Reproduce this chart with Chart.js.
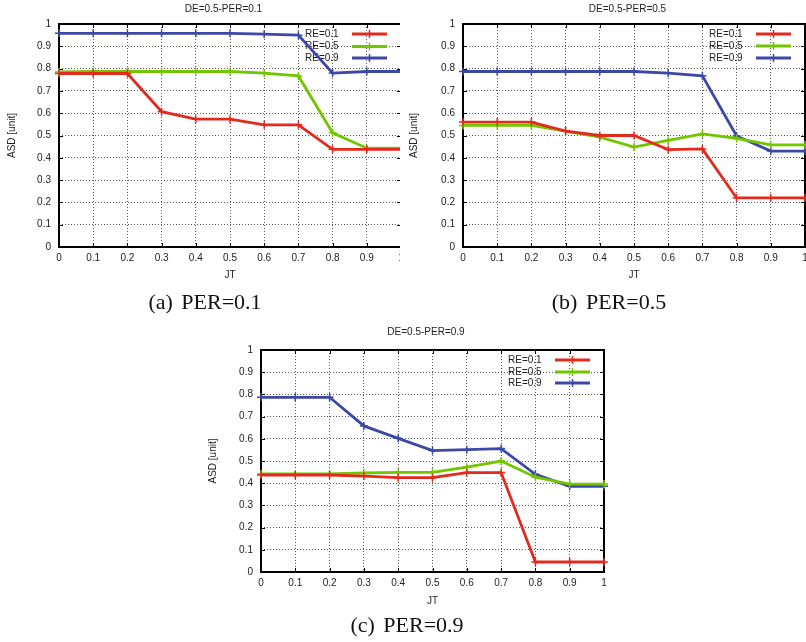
<!DOCTYPE html>
<html>
<head>
<meta charset="utf-8">
<script src="https://cdn.jsdelivr.net/npm/chart.js@4"></script>
<style>
  body { margin: 0; width: 806px; height: 642px; background: #fff; position: relative; overflow: hidden; }
  .box { position: absolute; overflow: hidden; }
  .cap { position: absolute; width: 200px; text-align: center; font-family: "Liberation Serif", "Times New Roman", serif;
         font-size: 22px; line-height: 22px; color: #111; word-spacing: 3px; white-space: nowrap; }
</style>
</head>
<body>
<div class="box" style="left:0;top:0;width:400px;height:290px"><canvas id="chartA" width="440" height="290"></canvas></div>
<div class="box" style="left:400px;top:0;width:406px;height:290px"><canvas id="chartB" width="440" height="290"></canvas></div>
<div class="box" style="left:200px;top:320px;width:420px;height:295px"><canvas id="chartC" width="420" height="295"></canvas></div>
<div class="cap" style="left:105px;top:291px">(a) PER=0.1</div>
<div class="cap" style="left:509px;top:291px">(b) PER=0.5</div>
<div class="cap" style="left:307px;top:614px">(c) PER=0.9</div>
<script>
// valeurs
const jtLabels = ['0', '0.1', '0.2', '0.3', '0.4', '0.5', '0.6', '0.7', '0.8', '0.9', '1'];
const yTickLabels = ['0', '0.1', '0.2', '0.3', '0.4', '0.5', '0.6', '0.7', '0.8', '0.9', '1'];
const reNames = ['RE=0.1', 'RE=0.5', 'RE=0.9'];
const reColors = ['#e32a1f', '#72c600', '#3c48a6'];

const per01_re01 = [0.778, 0.778, 0.778, 0.607, 0.573, 0.573, 0.548, 0.548, 0.438, 0.438, 0.438];
const per01_re05 = [0.785, 0.787, 0.787, 0.787, 0.787, 0.787, 0.78, 0.767, 0.512, 0.443, 0.443];
const per01_re09 = [0.958, 0.958, 0.958, 0.958, 0.958, 0.958, 0.955, 0.95, 0.78, 0.787, 0.787];

const per05_re01 = [0.56, 0.56, 0.56, 0.52, 0.5, 0.5, 0.437, 0.44, 0.22, 0.22, 0.22];
const per05_re05 = [0.545, 0.545, 0.545, 0.52, 0.493, 0.448, 0.478, 0.507, 0.487, 0.458, 0.458];
const per05_re09 = [0.787, 0.787, 0.787, 0.787, 0.787, 0.787, 0.78, 0.768, 0.498, 0.43, 0.43];

const per09_re01 = [0.437, 0.437, 0.437, 0.432, 0.425, 0.425, 0.448, 0.448, 0.045, 0.045, 0.045];
const per09_re05 = [0.442, 0.442, 0.442, 0.446, 0.449, 0.449, 0.472, 0.5, 0.427, 0.396, 0.396];
const per09_re09 = [0.787, 0.787, 0.787, 0.658, 0.602, 0.547, 0.551, 0.556, 0.44, 0.386, 0.386];

Chart.defaults.font.family = '"Liberation Sans", Arial, sans-serif';
Chart.defaults.font.size = 10;
Chart.defaults.color = '#222';

// cadre, petites graduations, titre et légende façon gnuplot
const gnuFrame = {
    id: 'gnuFrame',
    beforeDatasetsDraw(chart, args, opts) {
        const ctx = chart.ctx;
        const a = chart.chartArea;
        const sx = chart.scales.x, sy = chart.scales.y;
        const L = Math.round(a.left), R = Math.round(a.right);
        const T = Math.round(a.top), B = Math.round(a.bottom);
        ctx.save();
        ctx.strokeStyle = '#000';
        ctx.lineWidth = 1;
        ctx.beginPath();
        sy.ticks.forEach((t, i) => {
            const y = Math.round(sy.getPixelForTick(i)) + 0.5;
            ctx.moveTo(L, y); ctx.lineTo(L + 4, y);
            ctx.moveTo(R, y); ctx.lineTo(R - 4, y);
        });
        sx.ticks.forEach((t, i) => {
            const x = Math.round(sx.getPixelForTick(i)) + 0.5;
            ctx.moveTo(x, B); ctx.lineTo(x, B - 4);
            ctx.moveTo(x, T); ctx.lineTo(x, T + 4);
        });
        ctx.stroke();
        ctx.lineWidth = 2;
        ctx.strokeRect(L, T, R - L, B - T);

        ctx.font = '10px "Liberation Sans", Arial, sans-serif';
        ctx.fillStyle = '#222';
        ctx.textBaseline = 'middle';
        ctx.textAlign = 'center';
        ctx.fillText(opts.title, (a.left + a.right) / 2 - 6.5, opts.titleY);

        chart.data.datasets.forEach((ds, i) => {
            const y = a.top + opts.rows[i];
            ctx.textAlign = 'left';
            ctx.fillStyle = '#222';
            ctx.fillText(ds.label, a.right - 96, y);
            ctx.strokeStyle = ds.borderColor;
            ctx.lineWidth = 2.8;
            ctx.beginPath();
            ctx.moveTo(a.right - 49, y); ctx.lineTo(a.right - 14, y);
            ctx.stroke();
            ctx.lineWidth = 1.5;
            ctx.beginPath();
            ctx.moveTo(a.right - 31.5, y - 4); ctx.lineTo(a.right - 31.5, y + 4);
            ctx.stroke();
        });
        ctx.restore();
    }
};

function makeChart(id, series, lay) {
    const datasets = series.map((s, i) => ({
        label: reNames[i],
        data: s,
        borderColor: reColors[i],
        backgroundColor: reColors[i],
        borderWidth: 2.8,
        tension: 0,
        pointStyle: 'cross',
        pointRadius: 4,
        pointBorderWidth: 1.5,
        clip: false
    }));
    return new Chart(document.getElementById(id), {
        type: 'line',
        data: { labels: jtLabels, datasets: datasets },
        plugins: [gnuFrame],
        options: {
            responsive: false,
            animation: false,
            devicePixelRatio: 1,
            layout: { padding: { left: 0, top: lay.top, right: lay.right, bottom: lay.bottom } },
            plugins: {
                legend: { display: false },
                tooltip: { enabled: false },
                gnuFrame: { title: lay.title, titleY: lay.titleY, rows: lay.rows }
            },
            scales: {
                x: {
                    grid: { color: '#5a5a5a', drawTicks: false, lineWidth: 1 },
                    border: { display: false, dash: [1, 2] },
                    ticks: { padding: 5, maxRotation: 0, autoSkip: false },
                    title: { display: true, text: 'JT', padding: { top: 4, bottom: 4 } },
                    afterFit: s => { s.height = lay.xHeight; }
                },
                y: {
                    min: 0, max: 1,
                    grid: { color: '#5a5a5a', drawTicks: false, lineWidth: 1 },
                    border: { display: false, dash: [1, 2] },
                    ticks: { stepSize: 0.1, padding: 8, callback: (v, i) => yTickLabels[i] },
                    title: { display: true, text: 'ASD [unit]', padding: { top: lay.yTitlePad, bottom: 0 } },
                    afterFit: s => { s.width = lay.yWidth; }
                }
            }
        }
    });
}

makeChart('chartA', [per01_re01, per01_re05, per01_re09],
    { title: 'DE=0.5-PER=0.1', titleY: 9, top: 24, right: 39, bottom: 5, xHeight: 38, yWidth: 59, yTitlePad: 6, rows: [10, 22.5, 34] });
makeChart('chartB', [per05_re01, per05_re05, per05_re09],
    { title: 'DE=0.5-PER=0.5', titleY: 9, top: 24, right: 35, bottom: 5, xHeight: 38, yWidth: 63, yTitlePad: 8, rows: [10, 22, 34] });
makeChart('chartC', [per09_re01, per09_re05, per09_re09],
    { title: 'DE=0.5-PER=0.9', titleY: 12, top: 30, right: 16, bottom: 4, xHeight: 39, yWidth: 61, yTitlePad: 7, rows: [10, 22, 33] });
</script>
</body>
</html>
